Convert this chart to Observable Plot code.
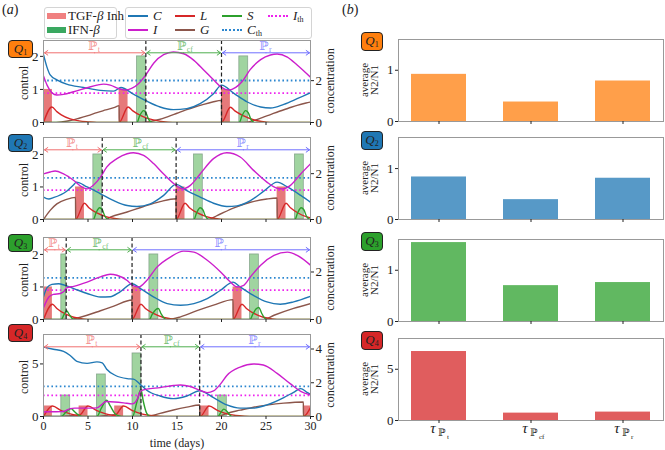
<!DOCTYPE html>
<html><head><meta charset="utf-8">
<script src="https://cdn.jsdelivr.net/npm/d3@7"></script>
<script src="https://cdn.jsdelivr.net/npm/@observablehq/plot@0.6"></script>
<style>
body{margin:0;background:#fff;}
#root{position:relative;width:665px;height:450px;overflow:hidden;font-family:"Liberation Serif","Times New Roman",serif;color:#222;background:#fff;}
.abs{position:absolute;white-space:nowrap;}
.rot{position:absolute;transform:translate(-50%,-50%) rotate(-90deg);white-space:nowrap;font-size:12px;text-align:center;}
.qbox{position:absolute;border:1px solid #222;border-radius:4px;font-size:13px;text-align:center;line-height:16px;}
.qbox sub{font-size:8px;vertical-align:-2px;}
.leg{position:absolute;border:1px solid #d4d4d4;border-radius:3px;background:#fff;}
.sw{position:absolute;}
.lt{position:absolute;font-size:13px;line-height:13px;white-space:nowrap;}
.lt sub{font-size:8px;vertical-align:-2px;}
svg{overflow:visible;}
</style></head>
<body><div id="root"></div>
<script>
// ---------- data ----------
const days = [0, 30];
const xTicks = [0, 5, 10, 15, 20, 25, 30];
const periodNames = ["t", "cf", "r"];
const barCats = ["Pt", "Pcf", "Pr"];

// Q1
const q1C = [[0,2.05],[0.37,1.69],[0.75,1.44],[1.5,1.29],[2.6,1.16],[4.5,1.06],[6.4,0.97],[7.9,0.95],[8.7,1.06],[10.1,0.86],[11.5,0.66],[13.1,0.47],[14.6,0.39],[16.1,0.42],[17.6,0.57],[19.1,0.87],[20,1.13],[21.4,0.88],[22.9,0.62],[24.4,0.47],[25.5,0.44],[27,0.55],[28.5,0.72],[30,0.9]];
const q1I = [[0,1.41],[0.4,1.13],[0.94,0.9],[1.5,0.83],[2.25,0.85],[3.4,0.93],[4.9,1.05],[6,1.13],[6.75,1.16],[7.5,1.13],[8.4,1.03],[9.2,0.98],[9.9,1.03],[10.7,1.18],[11.5,1.44],[12.4,1.8],[13.5,2.05],[14.6,2.13],[15.75,2.08],[16.9,1.88],[18,1.59],[19.1,1.29],[20,1.06],[20.8,0.98],[21.6,1.06],[22.3,1.23],[23.2,1.59],[24.4,1.9],[25.5,2.04],[26.25,2.07],[27.4,1.98],[28.5,1.74],[30,1.37]];
const q1L = [[0,0],[0.94,0.47],[1.5,0.33],[2,0.23],[3,0.11],[4,0.05],[5,0.02],[6,0],[8.5,0],[9.5,0.47],[10,0.36],[11,0.2],[12,0.1],[13,0.04],[14,0.01],[15,0],[20,0],[21,0.46],[21.5,0.35],[22.5,0.2],[23.5,0.09],[24.5,0.03],[25.5,0],[30,0]];
const q1G = [[0,0],[1,0],[2,0.02],[3,0.06],[4,0.13],[5,0.21],[6,0.3],[7,0.38],[8,0.46],[8.5,0.51],[8.51,0],[11,0],[12,0.03],[13,0.09],[14,0.18],[15,0.28],[16,0.38],[17,0.47],[18,0.55],[19,0.62],[20,0.67],[20.01,0],[22.5,0],[23.5,0.05],[24.5,0.14],[25.5,0.24],[26.5,0.34],[27.5,0.43],[28.5,0.52],[29.5,0.59],[30,0.62]];
const q1S = [[0,0],[10.5,0],[10.8,0.2],[11.25,0.36],[11.5,0.3],[11.8,0.1],[12.2,0],[22,0],[22.3,0.2],[22.7,0.36],[23,0.3],[23.3,0.1],[23.7,0],[30,0]];
const q1Tgf = [[0,1,1],[8.5,9.5,1],[20,21,1]];
const q1Ifn = [[10.5,11.5,2],[22,23,2]];
const q1Phases = [11.5, 20];
const q1Th = [1.27, 0.89];   // C_th, I_th

// Q2
const q2C = [[0,0.69],[0.6,0.63],[1.1,0.67],[2.6,0.87],[3.4,1.07],[3.7,1.15],[4.9,1.0],[6.4,0.79],[7.9,0.58],[9.4,0.43],[10.5,0.4],[12,0.48],[13.5,0.74],[14.9,1.08],[16.1,0.89],[17.6,0.69],[19.1,0.5],[20.6,0.4],[21.75,0.42],[23.25,0.58],[24.75,0.87],[26.25,1.15],[27.4,1.0],[28.9,0.74],[30,0.53]];
const q2I = [[0,1.4],[0.75,1.46],[1.3,1.49],[2.25,1.4],[3.4,1.2],[4.3,1.0],[4.9,0.94],[5.6,1.05],[6.4,1.3],[7.1,1.61],[8.25,1.87],[9.4,2.02],[10.1,2.05],[11.25,1.97],[12.4,1.71],[13.5,1.4],[14.9,1.05],[15.6,0.94],[16.5,1.05],[17.6,1.4],[19.1,1.87],[20.6,2.05],[22.1,1.92],[23.6,1.51],[25.1,1.15],[26.25,0.96],[26.8,0.94],[27.75,1.05],[28.9,1.4],[30,1.71]];
const q2L = [[0,0],[3.6,0],[4.6,0.5],[5.1,0.36],[6,0.2],[7,0.09],[8,0.03],[9,0],[14.9,0],[15.9,0.5],[16.4,0.36],[17.3,0.2],[18.3,0.09],[19.3,0.03],[20.3,0],[26.25,0],[27.25,0.5],[27.75,0.36],[28.6,0.2],[29.5,0.09],[30,0.05]];
const q2G = [[0,0],[0.75,0.28],[1.5,0.48],[2.6,0.62],[3.6,0.68],[3.61,0],[7,0],[7.5,0.07],[9.4,0.23],[11.25,0.4],[13.1,0.55],[14.9,0.64],[14.91,0],[18.5,0],[19.5,0.12],[21.4,0.36],[23.25,0.53],[25.1,0.63],[26.25,0.66],[26.26,0],[30,0]];
const q2S = [[0,0],[5.6,0],[5.9,0.2],[6.3,0.36],[6.6,0.3],[6.9,0.1],[7.3,0],[16.9,0],[17.2,0.2],[17.6,0.36],[17.9,0.3],[18.2,0.1],[18.6,0],[28.25,0],[28.55,0.2],[28.95,0.36],[29.25,0.3],[29.55,0.1],[29.95,0],[30,0]];
const q2Tgf = [[3.6,4.6,1],[14.9,15.9,1],[26.25,27.25,1]];
const q2Ifn = [[5.6,6.6,2],[16.9,17.9,2],[28.25,29.25,2]];
const q2Phases = [6.6, 14.9];
const q2Th = [1.28, 0.9];

// Q3
const q3C = [[0,0.7],[0.4,0.98],[0.94,1.08],[1.7,1.1],[2.4,1.05],[3.4,0.95],[4.9,0.8],[6.4,0.69],[7.5,0.7],[8.6,0.85],[9.95,1.1],[10.9,0.95],[12.4,0.69],[13.9,0.49],[15.4,0.44],[16.9,0.49],[18.4,0.64],[19.9,0.9],[21.3,1.15],[22.1,1.0],[23.6,0.74],[25.1,0.54],[26.6,0.47],[28.1,0.54],[30,0.71]];
const q3I = [[0,0.36],[0.6,0.69],[1.1,0.77],[1.9,0.8],[2.25,0.85],[2.6,0.97],[3.4,1.02],[4.9,1.15],[6.4,1.31],[7.5,1.39],[8.25,1.36],[9.4,1.2],[10,1.05],[10.7,1.0],[11.6,1.2],[12.75,1.61],[14.25,1.92],[15.75,2.1],[16.9,2.07],[18.4,1.82],[19.9,1.46],[21,1.15],[21.75,1.0],[22.5,1.05],[23.25,1.31],[24.4,1.67],[25.9,1.97],[27.4,2.07],[28.5,1.97],[30,1.67]];
const q3L = [[0,0],[1,0.47],[1.5,0.34],[2.4,0.18],[3.4,0.07],[4.4,0.02],[5.4,0],[9.95,0],[10.95,0.47],[11.45,0.34],[12.4,0.18],[13.4,0.07],[14.4,0.02],[15.4,0],[21.3,0],[22.3,0.47],[22.8,0.34],[23.7,0.18],[24.7,0.07],[25.7,0.02],[26.7,0],[30,0]];
const q3G = [[0,0],[3,0],[3.4,0.02],[4.9,0.13],[6.4,0.27],[7.9,0.41],[9.95,0.6],[9.96,0],[13.9,0],[15.4,0.08],[17.25,0.27],[19.1,0.44],[21.3,0.61],[21.31,0],[24.7,0],[25.9,0.13],[28.1,0.34],[30,0.49]];
const q3S = [[0,0],[2,0],[2.3,0.15],[2.6,0.27],[2.9,0.15],[3.2,0.04],[3.5,0],[11.9,0],[12.2,0.15],[12.6,0.3],[12.9,0.34],[13.2,0.18],[13.6,0.03],[13.9,0],[23.2,0],[23.5,0.15],[23.9,0.33],[24.2,0.37],[24.5,0.2],[24.9,0.03],[25.2,0],[30,0]];
const q3Tgf = [[0,1,1],[9.95,10.95,1],[21.3,22.3,1]];
const q3Ifn = [[2,2.55,2],[11.9,12.9,2],[23.2,24.2,2]];
const q3Phases = [2.55, 9.95];
const q3Th = [1.28, 0.9];

// Q4
const q4C = [[0,6.6],[1.1,6.4],[2.25,6.2],[3,5.8],[3.75,5.25],[4.9,5.05],[6,5.2],[6.6,5.1],[7.1,4.5],[8.1,3.9],[9.4,3.6],[10.1,3.55],[10.95,3.0],[11.6,2.5],[13.1,1.95],[14.6,1.7],[16.1,1.95],[17.55,2.45],[19.1,1.8],[20.6,1.1],[22.1,0.8],[23.6,0.8],[25.1,1.1],[27,1.8],[28.1,2.3],[28.9,2.65],[29.6,2.3],[30,2.1]];
const q4I = [[0,0.43],[1,0.45],[2,0.46],[2.5,0.55],[3,0.75],[3.5,0.8],[5,0.8],[6,0.82],[6.5,1.1],[7,1.42],[8,1.38],[9,1.3],[10,1.2],[10.5,1.6],[10.9,2.4],[11.6,2.6],[13.1,2.75],[14.6,2.95],[15.4,3.0],[16.5,2.85],[17.55,2.5],[18.4,2.27],[19.1,2.43],[19.9,3.1],[20.6,3.9],[22.1,4.7],[23.6,5.0],[24.7,4.9],[26.25,4.1],[27.75,3.1],[28.9,2.4],[30,2.05]];
const q4L = [[0,0],[1,1.0],[2,0.55],[3,0.25],[4,0.1],[5,1.0],[6,0.55],[7,0.25],[8,0.1],[9,1.0],[10,0.55],[11,0.25],[12,0.1],[13,0.03],[14,0],[17.6,0],[18.6,1.0],[19.6,0.55],[20.6,0.25],[21.6,0.1],[22.6,0.03],[23.6,0],[29.2,0],[30,0.85]];
const q4G = [[0,0],[2,0],[3,0.08],[4,0.15],[4.01,0],[6,0],[7,0.1],[8,0.18],[8.01,0],[11.5,0],[13.1,0.3],[14.6,0.62],[16.1,0.89],[17.55,1.1],[17.56,0],[19.6,0],[20.6,0.3],[22.1,0.6],[23.6,0.88],[25.1,1.08],[27,1.27],[29.2,1.38],[29.21,0],[30,0]];
const q4S = [[0,0],[2,0],[2.5,0.4],[3.1,0.75],[3.5,0.45],[4,0.1],[4.4,0],[6,0],[6.5,0.8],[7.1,1.55],[7.5,1.0],[8,0.3],[8.5,0.05],[9,0],[10,0],[10.5,1.4],[10.95,2.6],[11.2,1.5],[11.6,0.3],[12,0],[19.6,0],[19.9,0.35],[20.25,0.7],[20.6,0.5],[21,0.1],[21.3,0],[30,0]];
const q4Tgf = [[0,1,1],[4,5,1],[8,9,1],[17.6,18.6,1],[29.2,30,1]];
const q4Ifn = [[2,3,2],[6,7,4],[10,11,6],[19.6,20.6,2]];
const q4Phases = [10.95, 17.55];
const q4Th = [2.86, 2.0];

// average N2/N1 (panel b)
const q1Avg = [0.92, 0.38, 0.79];
const q2Avg = [0.835, 0.39, 0.81];
const q3Avg = [1.54, 0.70, 0.76];
const q4Avg = [6.73, 0.72, 0.82];

// axis settings
const controlTicksSmall = [0, 1, 2];
const controlTicksBig = [0, 5];
const concTicksSmall = [0, 2];
const concTicksBig = [0, 2, 4];
const avgTicksSmall = [0, 1];
const avgTicksBig = [0, 5];

// ---------- styling ----------
const colC = "#1f77b4", colI = "#cc1fcc", colL = "#d62728", colG = "#8c564b", colS = "#2ca02c";
const colCth = "#2b86cf", colIth = "#ee22ee";
const periodColors = ["#f07070", "#4fae4f", "#6f6fff"];
const qColors = ["#ff7f0e", "#1f77b4", "#2ca02c", "#d62728"];
const root = document.getElementById("root");
const fmt = d => String(d);

function place(node, left, top) {
  node.style.position = "absolute";
  node.style.left = left + "px";
  node.style.top = top + "px";
  root.appendChild(node);
}
function html(str, cls, left, top, extra) {
  const d = document.createElement("div");
  d.className = cls;
  d.innerHTML = str;
  d.style.left = left + "px";
  d.style.top = top + "px";
  if (extra) Object.assign(d.style, extra);
  root.appendChild(d);
  return d;
}

const FT = 4; // top margin inside svg
function leftPanel(p) {
  const top = p.top;
  const arrowY = top * 0.85;
  const bounds = [0, p.phases[0], p.phases[1], 30];
  const periods = periodNames.map((n, i) => ({x1: bounds[i], x2: bounds[i + 1], color: periodColors[i], name: n}));
  // each double arrow = two arrows from the period's middle to its ends
  const halves = periods.flatMap(d => [
    {from: (d.x1 + d.x2) / 2, to: d.x1, color: d.color},
    {from: (d.x1 + d.x2) / 2, to: d.x2, color: d.color}
  ]);
  const line = (data, color) => Plot.line(data, {x: d => d[0], y: d => d[1], stroke: color, strokeWidth: 1.4, curve: "monotone-x", clip: true});
  return Plot.plot({
    width: 350, height: FT + 82 + p.mb,
    marginLeft: 43, marginRight: 40, marginTop: FT, marginBottom: p.mb,
    x: {domain: days},
    y: {domain: [0, top]},
    style: {fontFamily: "'Liberation Serif', serif", fontSize: "12px", background: "transparent", color: "#222"},
    marks: [
      Plot.rect(p.tgf, {x1: d => d[0], x2: d => d[1], y1: 0, y2: d => d[2], fill: "#d62728", fillOpacity: 0.62}),
      Plot.rect(p.ifn, {x1: d => d[0], x2: d => d[1], y1: 0, y2: d => d[2], fill: "#2ca02c", fillOpacity: 0.45, stroke: "#6f8f78", strokeWidth: 0.8, strokeOpacity: 0.7}),
      Plot.ruleY([p.th[0]], {stroke: colCth, strokeDasharray: "1.6,2.6", strokeWidth: 1.8}),
      Plot.ruleY([p.th[1]], {stroke: colIth, strokeDasharray: "1.6,2.6", strokeWidth: 1.8}),
      line(p.G, colG), line(p.L, colL), line(p.S, colS), line(p.C, colC), line(p.I, colI),
      Plot.ruleX(p.phases, {stroke: "#222", strokeDasharray: "4,2.5", strokeWidth: 1.2}),
      Plot.arrow(halves, {x1: "from", x2: "to", y1: arrowY, y2: arrowY, stroke: "color", strokeWidth: 1, headLength: 6, headAngle: 70, insetEnd: 1}),
      Plot.text(periods, {x: d => (d.x1 + d.x2) / 2, y: arrowY, text: () => "ℙ", fill: "color", fillOpacity: 0.8, dx: -2, dy: -7, fontSize: 12, fontFamily: "DejaVu Serif, serif"}),
      Plot.text(periods, {x: d => (d.x1 + d.x2) / 2, y: arrowY, text: "name", fill: "color", fillOpacity: 0.8, dx: 3, dy: -3, fontSize: 8, textAnchor: "start"}),
      Plot.frame({stroke: "#999"}),
      Plot.axisY({anchor: "left", ticks: p.yTicks, tickSize: 3, tickPadding: 2, tickFormat: fmt, label: null, fontSize: 13}),
      Plot.axisY({anchor: "right", ticks: p.cTicks.map(c => c / p.ratio), tickFormat: d => String(Math.round(d * p.ratio)), tickSize: 3, tickPadding: 2, label: null, fontSize: 13}),
      Plot.axisX({ticks: xTicks, tickSize: 3, tickPadding: 2, tickFormat: p.showX ? fmt : (() => ""), label: null})
    ]
  });
}

function rightPanel(p) {
  const data = barCats.map((c, i) => ({cat: c, v: p.vals[i]}));
  const tickX = barCats.map((c, i) => ({cat: c, sub: periodNames[i]}));
  const marks = [
    Plot.barY(data, {x: "cat", y: "v", fill: p.color, fillOpacity: 0.75}),
    Plot.frame({stroke: "#999"}),
    Plot.axisY({ticks: p.yTicks, tickSize: 3, tickPadding: 2, tickFormat: fmt, label: null}),
    Plot.axisX({tickSize: 3, tickFormat: () => "", label: null})
  ];
  if (p.showX) {
    marks.push(
      Plot.text(tickX, {x: "cat", frameAnchor: "bottom", text: () => "τ", dx: -6, dy: 12, fontSize: 15, fontStyle: "italic"}),
      Plot.text(tickX, {x: "cat", frameAnchor: "bottom", text: () => "ℙ", dx: 3, dy: 15, fontSize: 10, fontFamily: "DejaVu Serif, serif"}),
      Plot.text(tickX, {x: "cat", frameAnchor: "bottom", text: "sub", dx: 8, dy: 18, fontSize: 7, textAnchor: "start"})
    );
  }
  return Plot.plot({
    width: 325, height: FT + 82 + p.mb,
    marginLeft: 58, marginRight: 2, marginTop: FT, marginBottom: p.mb,
    x: {domain: barCats, paddingInner: 0.4, paddingOuter: 0.13},
    y: {domain: [0, p.top]},
    style: {fontFamily: "'Liberation Serif', serif", fontSize: "13px", background: "transparent", color: "#222"},
    marks
  });
}

const lefts = [
  {C: q1C, I: q1I, L: q1L, G: q1G, S: q1S, tgf: q1Tgf, ifn: q1Ifn, phases: q1Phases, th: q1Th, top: 2.48, ratio: 1.58, yTicks: controlTicksSmall, cTicks: concTicksSmall, frameTop: 40, mb: 8, showX: false},
  {C: q2C, I: q2I, L: q2L, G: q2G, S: q2S, tgf: q2Tgf, ifn: q2Ifn, phases: q2Phases, th: q2Th, top: 2.52, ratio: 1.42, yTicks: controlTicksSmall, cTicks: concTicksSmall, frameTop: 137, mb: 8, showX: false},
  {C: q3C, I: q3I, L: q3L, G: q3G, S: q3S, tgf: q3Tgf, ifn: q3Ifn, phases: q3Phases, th: q3Th, top: 2.52, ratio: 1.37, yTicks: controlTicksSmall, cTicks: concTicksSmall, frameTop: 237, mb: 8, showX: false},
  {C: q4C, I: q4I, L: q4L, G: q4G, S: q4S, tgf: q4Tgf, ifn: q4Ifn, phases: q4Phases, th: q4Th, top: 7.8, ratio: 0.623, yTicks: controlTicksBig, cTicks: concTicksBig, frameTop: 334, mb: 20, showX: true}
];
const rights = [
  {vals: q1Avg, color: qColors[0], top: 1.6, yTicks: avgTicksSmall, frameTop: 39, mb: 8, showX: false},
  {vals: q2Avg, color: qColors[1], top: 1.61, yTicks: avgTicksSmall, frameTop: 137, mb: 8, showX: false},
  {vals: q3Avg, color: qColors[2], top: 1.6, yTicks: avgTicksSmall, frameTop: 239, mb: 8, showX: false},
  {vals: q4Avg, color: qColors[3], top: 8.0, yTicks: avgTicksBig, frameTop: 338, mb: 26, showX: true}
];

lefts.forEach(p => place(leftPanel(p), 0, p.frameTop - FT));
rights.forEach(p => place(rightPanel(p), 340, p.frameTop - FT));

// axis titles
lefts.forEach(p => {
  html("control", "rot", 24, p.frameTop + 43);
  html("concentration", "rot", 330, p.frameTop + 41);
});
rights.forEach(p => {
  html("average<br>N2/N1", "rot", 369, p.frameTop + 41, {fontSize: "11px", lineHeight: "10px"});
});
html("time (days)", "abs", 177, 443, {transform: "translate(-50%,-50%)", fontSize: "12px"});

// panel letters
html("(<i>a</i>)", "abs", 2, 2, {fontSize: "14px"});
html("(<i>b</i>)", "abs", 342, 2, {fontSize: "14px"});

// Q boxes
const leftQTops = [40, 134, 234, 324];
const rightQTops = [32, 131, 232, 331];
qColors.forEach((c, i) => {
  html(`<i>Q</i><sub>${i + 1}</sub>`, "qbox", 8, leftQTops[i], {width: "23px", height: "16px", background: c});
  html(`<i>Q</i><sub>${i + 1}</sub>`, "qbox", 361, rightQTops[i], {width: "20px", height: "17px", background: c});
});

// legends
html("", "leg", 44, 7, {width: "71px", height: "30px"});
html("", "sw", 47, 13, {width: "19px", height: "6px", background: "#f08080"});
html("TGF-<i>β</i> Inh", "lt", 68, 9);
html("", "sw", 47, 27, {width: "19px", height: "6px", background: "#3aa860"});
html("IFN-<i>β</i>", "lt", 68, 23);

html("", "leg", 125, 7, {width: "185px", height: "30px"});
const legItems = [
  {x: 128, y: 16, c: colC, dot: false, t: "<i>C</i>"},
  {x: 128, y: 30, c: colI, dot: false, t: "<i>I</i>"},
  {x: 175, y: 16, c: colL, dot: false, t: "<i>L</i>"},
  {x: 175, y: 30, c: colG, dot: false, t: "<i>G</i>"},
  {x: 222, y: 16, c: colS, dot: false, t: "<i>S</i>"},
  {x: 222, y: 30, c: colCth, dot: true, t: "<i>C</i><sub>th</sub>"},
  {x: 268, y: 16, c: colIth, dot: true, t: "<i>I</i><sub>th</sub>"}
];
legItems.forEach(it => {
  if (it.dot) html("", "sw", it.x, it.y - 1, {width: "20px", height: "0px", borderTop: "2px dotted " + it.c});
  else html("", "sw", it.x, it.y - 1, {width: "20px", height: "2px", background: it.c});
  html(it.t, "lt", it.x + 25, it.y - 7);
});
</script>
</body></html>
